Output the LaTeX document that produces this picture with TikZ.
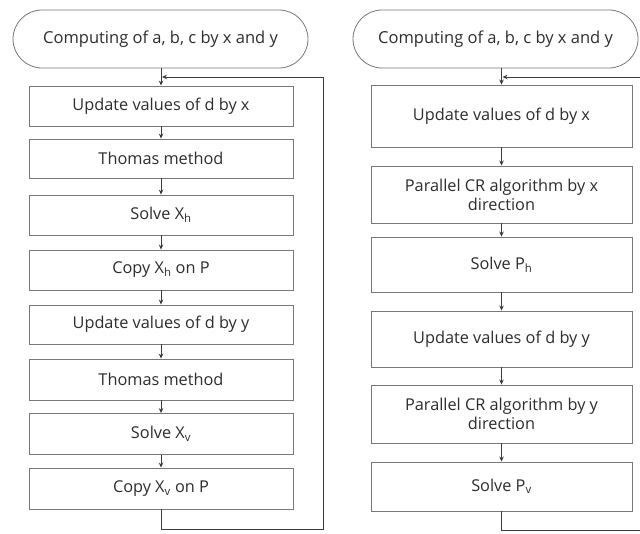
\documentclass[tikz,border=0pt]{standalone}
\usepackage{fontspec}
\setmainfont{Open Sans}
\usetikzlibrary{arrows.meta}
\definecolor{boxline}{RGB}{120,120,120}
\definecolor{flowline}{RGB}{60,60,60}
\definecolor{txt}{RGB}{45,45,45}
\tikzset{
  stepbox/.style={draw=boxline, line width=0.9pt, fill=white, text=txt,
    inner sep=2pt, align=center, font=\fontsize{16.3}{19}\selectfont},
  termbox/.style={draw=boxline, line width=0.8pt, rounded corners=29pt,
    minimum height=58pt, text=txt, font=\fontsize{16.5}{19}\selectfont},
  flow/.style={draw=flowline, line width=0.8pt,
    -{Stealth[length=5pt,width=4.5pt]}},
  plain/.style={draw=flowline, line width=0.8pt}
}
\begin{document}
\begin{tikzpicture}[x=1pt, y=-1pt]
\useasboundingbox (0,0) rectangle (640,533);

% ---------- left flow: Thomas method ----------
\node[termbox, minimum width=295pt] (lt) at (160.5,39) {Computing of a, b, c by x and y};
\node[stepbox, minimum width=264pt, minimum height=40pt] (l1) at (161,106) {Update values of d by x};
\node[stepbox, minimum width=264pt, minimum height=39pt] (l2) at (161,158.5) {Thomas method};
\node[stepbox, minimum width=264pt, minimum height=40pt] (l3) at (161,215) {Solve X\textsubscript{h}};
\node[stepbox, minimum width=264pt, minimum height=40pt] (l4) at (161,270) {Copy X\textsubscript{h} on P};
\node[stepbox, minimum width=264pt, minimum height=39pt] (l5) at (161,324.5) {Update values of d by y};
\node[stepbox, minimum width=264pt, minimum height=41pt] (l6) at (161,379.5) {Thomas method};
\node[stepbox, minimum width=264pt, minimum height=41pt] (l7) at (161,434) {Solve X\textsubscript{v}};
\node[stepbox, minimum width=264pt, minimum height=41pt] (l8) at (161,488.5) {Copy X\textsubscript{v} on P};

\coordinate (lj) at (161,77);
\coordinate (lb) at (161,529);
\coordinate (lbr) at (323,529);
\coordinate (ltr) at (323,77);

\draw[flow] (lt.south -| l1.north) -- (l1.north);
\foreach \a/\b in {l1/l2, l2/l3, l3/l4, l4/l5, l5/l6, l6/l7, l7/l8}
  \draw[flow] (\a) -- (\b);
\draw[plain] (l8.south) -- (lb) -- (lbr) -- (ltr);
\draw[flow] (ltr) -- ([xshift=1pt]lj);

% ---------- right flow: parallel CR ----------
\node[termbox, minimum width=285pt] (rt) at (495.5,39) {Computing of a, b, c by x and y};
\node[stepbox, minimum width=261pt, minimum height=62pt] (r1) at (501.5,116) {Update values of d by x};
\node[stepbox, minimum width=261pt, minimum height=57pt] (r2) at (501.5,194.5) {Parallel CR algorithm by x\\direction};
\node[stepbox, minimum width=261pt, minimum height=55pt] (r3) at (501.5,264.5) {Solve P\textsubscript{h}};
\node[stepbox, minimum width=261pt, minimum height=56pt] (r4) at (501.5,339) {Update values of d by y};
\node[stepbox, minimum width=261pt, minimum height=58pt] (r5) at (501.5,414) {Parallel CR algorithm by y\\direction};
\node[stepbox, minimum width=261pt, minimum height=49pt] (r6) at (501.5,486.5) {Solve P\textsubscript{v}};

\coordinate (rj) at (501.5,77);
\coordinate (rb) at (501.5,530);
\coordinate (rbr) at (641,530);
\coordinate (rtr) at (641,77);

\draw[flow] (rt.south -| r1.north) -- (r1.north);
\foreach \a/\b in {r1/r2, r2/r3, r3/r4, r4/r5, r5/r6}
  \draw[flow] (\a) -- (\b);
\draw[plain] (r6.south) -- (rb) -- (rbr);
\draw[flow] (rtr) -- ([xshift=1pt]rj);
\end{tikzpicture}
\end{document}
